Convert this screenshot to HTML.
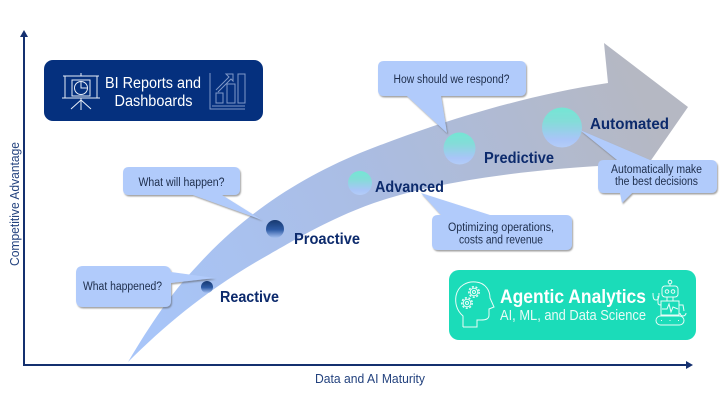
<!DOCTYPE html>
<html><head><meta charset="utf-8"><style>
html,body{margin:0;padding:0;background:#fff}
svg{display:block;filter:blur(0.3px)}
text{font-family:"Liberation Sans",sans-serif}
</style></head><body>
<svg width="720" height="406" viewBox="0 0 720 406" xmlns="http://www.w3.org/2000/svg">
<defs>
<linearGradient id="arr" gradientUnits="userSpaceOnUse" x1="150" y1="320" x2="640" y2="90">
<stop offset="0" stop-color="#a8c5f8"/><stop offset="0.45" stop-color="#aabde4"/><stop offset="1" stop-color="#b5b8c3"/>
</linearGradient>
<linearGradient id="teal" x1="0" y1="0" x2="0" y2="1">
<stop offset="0" stop-color="#74e6d4"/><stop offset="0.35" stop-color="#84dcd8"/><stop offset="0.8" stop-color="#a9c5f8"/><stop offset="1" stop-color="#b4cdf8"/>
</linearGradient>
<linearGradient id="navy" x1="0" y1="0" x2="0" y2="1">
<stop offset="0" stop-color="#17386f"/><stop offset="0.55" stop-color="#2f5ca6"/><stop offset="1" stop-color="#a5c0f0"/>
</linearGradient>
<filter id="sh" x="-10%" y="-10%" width="125%" height="130%">
<feDropShadow dx="1" dy="1.5" stdDeviation="0.8" flood-color="#555" flood-opacity="0.55"/>
</filter>
<filter id="soft"><feGaussianBlur stdDeviation="0.35"/></filter>
</defs>

<!-- big arrow -->
<path d="M128 362 C150 325 172 292 197 266 C245 213 300 178 360 153 C430 125 520 96 608 83 L604 43 L688 107 L622 202 L620 165 C540 168 450 180 393 197 C340 212 293 241 270 254 C210 287 165 325 128 362 Z" fill="url(#arr)"/>

<!-- axes -->
<path d="M24 365 V36" stroke="#14306f" stroke-width="2" fill="none"/>
<path d="M24 30 L28 37 H20 Z" fill="#14306f"/>
<path d="M23 365 H688" stroke="#14306f" stroke-width="2" fill="none"/>
<path d="M693 365 L686 361 V369 Z" fill="#14306f"/>
<text transform="translate(19 266) rotate(-90)" font-size="13" fill="#23427e" textLength="124" lengthAdjust="spacingAndGlyphs">Competitive Advantage</text>
<text x="315" y="383" font-size="13" fill="#23427e" textLength="110" lengthAdjust="spacingAndGlyphs">Data and AI Maturity</text>

<!-- BI box -->
<rect x="44" y="60" width="219" height="61" rx="9" fill="#05307e"/>
<text x="105" y="88" font-size="15.5" fill="#fff" textLength="96" lengthAdjust="spacingAndGlyphs">BI Reports and</text>
<text x="114.500" y="106" font-size="15.5" fill="#fff" textLength="78" lengthAdjust="spacingAndGlyphs">Dashboards</text>
<g fill="none" stroke="#e8eef8" stroke-width="1">
<path d="M63 76 H99 M65 76 V98 M97 76 V98 M62 98 H100 M81 73 V76 M81 98 V110 M81 100 L71 109 M81 100 L91 109"/>
<rect x="72" y="80" width="18" height="16"/>
<circle cx="81" cy="88" r="6.500"/>
<path d="M81 82 V88 H87"/>
</g>
<g fill="none" stroke="#7f98c8" stroke-width="1">
<path d="M210 73 V109 H245 M212 106 H245"/>
<rect x="216" y="93" width="7" height="10"/>
<rect x="227" y="84" width="8" height="19"/>
<rect x="238" y="74" width="7" height="29"/>
<path d="M216 90 L229 77 L226 74 H233 V81 L231 79 L218 92"/>
</g>

<!-- What happened callout -->
<g filter="url(#sh)">
<path d="M83 266 H164 Q170 266 171 272 L215 278 L171 283 V301 Q171 307 165 307 H83 Q76 307 76 300 V273 Q76 266 83 266 Z" fill="#b1cbfb"/>
</g>
<text x="83" y="290" font-size="11.500" fill="#1d2d4b" textLength="79" lengthAdjust="spacingAndGlyphs">What happened?</text>

<!-- What will happen -->
<g filter="url(#sh)">
<path d="M129 167 H234 Q240 167 240 173 V189 Q240 195 234 195 H222 L262 220 L193 195 H129 Q123 195 123 189 V173 Q123 167 129 167 Z" fill="#b1cbfb"/>
</g>
<text x="138.500" y="186" font-size="11.500" fill="#1d2d4b" textLength="86" lengthAdjust="spacingAndGlyphs">What will happen?</text>

<!-- How should we respond -->
<g filter="url(#sh)">
<path d="M384 61 H520 Q526 61 526 67 V90 Q526 96 520 96 H441 L447 133 L407 96 H384 Q378 96 378 90 V67 Q378 61 384 61 Z" fill="#b1cbfb"/>
</g>
<text x="393.500" y="83" font-size="11.500" fill="#1d2d4b" textLength="116" lengthAdjust="spacingAndGlyphs">How should we respond?</text>

<!-- Optimizing -->
<g filter="url(#sh)">
<path d="M438 215 H441 L421 193 L490 215 H566 Q572 215 572 221 V244 Q572 250 566 250 H438 Q432 250 432 244 V221 Q432 215 438 215 Z" fill="#b1cbfb"/>
</g>
<text x="448" y="231" font-size="11.500" fill="#1d2d4b" textLength="106" lengthAdjust="spacingAndGlyphs">Optimizing operations,</text>
<text x="459" y="243.500" font-size="11.500" fill="#1d2d4b" textLength="84" lengthAdjust="spacingAndGlyphs">costs and revenue</text>

<!-- circles -->
<circle cx="207" cy="287" r="6" fill="url(#navy)" filter="url(#soft)"/>
<circle cx="275" cy="229" r="9" fill="url(#navy)" filter="url(#soft)"/>
<circle cx="360" cy="183" r="12" fill="url(#teal)" filter="url(#soft)"/>
<circle cx="459.500" cy="148.500" r="16" fill="url(#teal)" filter="url(#soft)"/>
<circle cx="562" cy="127.500" r="20" fill="url(#teal)" filter="url(#soft)"/>

<!-- Automatically -->
<g filter="url(#sh)">
<path d="M604 160 H617 L580 130 L650 160 H711 Q717 160 717 166 V187 Q717 193 711 193 H632 L622 203 L620 193 H604 Q598 193 598 187 V166 Q598 160 604 160 Z" fill="#b1cbfb"/>
</g>
<text x="611" y="173" font-size="11.500" fill="#1d2d4b" textLength="91" lengthAdjust="spacingAndGlyphs">Automatically make</text>
<text x="615" y="185" font-size="11.500" fill="#1d2d4b" textLength="83" lengthAdjust="spacingAndGlyphs">the best decisions</text>

<!-- stage labels -->
<g font-weight="bold" font-size="15.5" fill="#0c2a6c">
<text x="220" y="302" textLength="59" lengthAdjust="spacingAndGlyphs">Reactive</text>
<text x="294" y="244" textLength="66" lengthAdjust="spacingAndGlyphs">Proactive</text>
<text x="375" y="192" textLength="69" lengthAdjust="spacingAndGlyphs">Advanced</text>
<text x="484" y="163" textLength="70" lengthAdjust="spacingAndGlyphs">Predictive</text>
<text x="590" y="129" textLength="79" lengthAdjust="spacingAndGlyphs">Automated</text>
</g>

<!-- Agentic box -->
<rect x="449" y="270" width="247" height="70" rx="10" fill="#1bdcb9"/>
<text x="500" y="303" font-size="19" font-weight="bold" fill="#fff" textLength="146" lengthAdjust="spacingAndGlyphs">Agentic Analytics</text>
<text x="500" y="320" font-size="14.500" fill="#e8fbf6" textLength="146" lengthAdjust="spacingAndGlyphs">AI, ML, and Data Science</text>
<g fill="none" stroke="#eafcf8" stroke-width="1">
<path d="M463 327 V316 C456 310 455 302 456 296 C458 285 468 281 476 282 C486 283 490 291 490 298 L494 307 L489 309 V315 C489 319 486 320 481 320 H477 V327 H463"/>
<circle cx="474" cy="292" r="3.800"/><circle cx="474" cy="292" r="5.200" stroke-width="1.500" stroke-dasharray="2 1.700"/><circle cx="474" cy="292" r="1.500"/>
<circle cx="467" cy="303" r="3.800"/><circle cx="467" cy="303" r="5.200" stroke-width="1.500" stroke-dasharray="2 1.700"/><circle cx="467" cy="303" r="1.500"/>
<rect x="662" y="286" width="16" height="11" rx="3"/>
<circle cx="667" cy="291.500" r="1.800"/><circle cx="673" cy="291.500" r="1.800"/>
<circle cx="670" cy="282" r="1.800"/><path d="M670 284 V286 M667 297 V301 M673 297 V301"/>
<rect x="661" y="301" width="18" height="14"/>
<path d="M662 309 H667 L669 304 L671 312 L673 307 L678 309 M658 296 V303 C658 305 660 305 661 305 M653 293 C653 299 654 300 656 300 C658 300 659 299 659 293 M679 305 H683 L684 311 M680 313 A3 3 0 1 0 686 313"/>
<rect x="656" y="316" width="28" height="9" rx="4.500"/>
<path d="M661 320.500 H662 M669.500 320.500 H670.500 M678 320.500 H679"/>
</g>
</svg>
</body></html>
